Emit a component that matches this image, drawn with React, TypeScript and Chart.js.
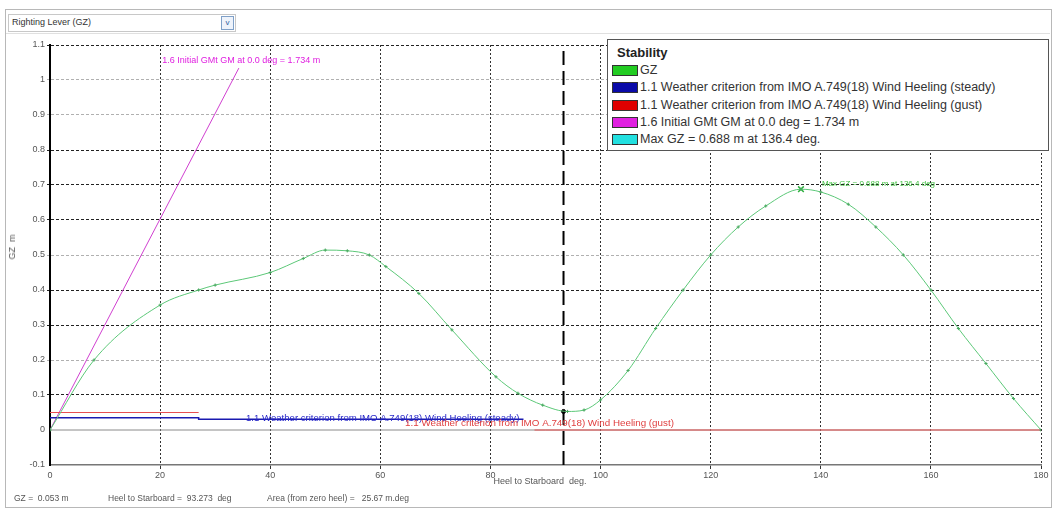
import React, { useEffect, useRef } from "react";
import { Chart, registerables } from "chart.js";
Chart.register(...registerables);

// ---- data ----
const gzHeel = [0, 8, 20, 27, 30, 40, 46, 50, 54, 58, 61, 67, 73, 81, 85, 89.5, 94, 97, 100, 105, 110, 115, 120, 125, 130, 136.4, 140, 145, 150, 155, 160, 165, 170, 175, 180];
const gzValues = [0, 0.2, 0.357, 0.4, 0.414, 0.45, 0.49, 0.514, 0.512, 0.5, 0.467, 0.39, 0.286, 0.152, 0.105, 0.071, 0.053, 0.057, 0.086, 0.17, 0.29, 0.4, 0.5, 0.58, 0.64, 0.688, 0.68, 0.645, 0.58, 0.5, 0.4, 0.29, 0.19, 0.09, 0];
const gmHeel = [0, 34.3];
const gmValues = [0, 1.034];
const steadyHeel = [0, 27, 27, 86];
const steadyValues = [0.035, 0.035, 0.031, 0.031];
const gustHeel = [0, 27, 27, 88, 180];
const gustValues: (number | null)[] = [0.05, 0.05, null, 0, 0];
const equilibriumHeel = 93.273;
const equilibriumGZ = 0.053;
const maxGZHeel = 136.4;
const maxGZ = 0.688;
const xMin = 0, xMax = 180, xStep = 20;
const yMin = -0.1, yMax = 1.1, yStep = 0.1;
const lightGridValues = [1.0, 0.9, 0.5, 0.2];

const legendTitle = "Stability";
const legendLabels = [
  "GZ",
  "1.1 Weather criterion from IMO A.749(18) Wind Heeling (steady)",
  "1.1 Weather criterion from IMO A.749(18) Wind Heeling (gust)",
  "1.6 Initial GMt GM at 0.0 deg = 1.734 m",
  "Max GZ = 0.688 m at 136.4 deg.",
];
const legendColors = ["#22cc22", "#0a0aa8", "#e00000", "#e020e0", "#22e0e0"];

const annotations = [
  { text: "1.6 Initial GMt GM at 0.0 deg = 1.734 m", x: 20.4, y: 1.055, color: "#e020e0", size: 9 },
  { text: "1.1 Weather criterion from IMO A.749(18) Wind Heeling (steady)", x: 35.6, y: 0.034, color: "#2828c8", size: 9.6 },
  { text: "1.1 Weather criterion from IMO A.749(18) Wind Heeling (gust)", x: 64.5, y: 0.018, color: "#e04040", size: 9.8 },
  { text: "Max GZ = 0.688 m at 136.4 deg", x: 140.2, y: 0.703, color: "#40c040", size: 8 },
];

const headerLabel = "Righting Lever (GZ)";
const xTitle = "Heel to Starboard  deg.";
const yTitle = "GZ  m";
const statusTexts = [
  { text: "GZ =  0.053 m", left: 14 },
  { text: "Heel to Starboard =  93.273  deg", left: 108 },
  { text: "Area (from zero heel) =   25.67 m.deg", left: 267 },
];

const pts = (xs: number[], ys: (number | null)[]) => xs.map((x, i) => ({ x, y: ys[i] }));

const FONT = '"Liberation Sans", Arial, sans-serif';

export default function App() {
  const ref = useRef<HTMLCanvasElement>(null);
  useEffect(() => {
    document.body.style.margin = "0";
    const annotationPlugin = {
      id: "annot",
      afterDatasetsDraw(chart: any) {
        const { ctx, scales } = chart;
        ctx.save();
        ctx.textBaseline = "middle";
        ctx.textAlign = "left";
        for (const a of annotations) {
          ctx.font = `${a.size}px ${FONT}`;
          ctx.fillStyle = a.color;
          ctx.fillText(a.text, scales.x.getPixelForValue(a.x), scales.y.getPixelForValue(a.y));
        }
        ctx.restore();
      },
    };
    const chart = new Chart(ref.current!, {
      type: "scatter",
      data: {
        datasets: [
          {
            data: pts(gzHeel, gzValues),
            showLine: true,
            borderColor: "#5cc878",
            borderWidth: 1,
            cubicInterpolationMode: "monotone",
            pointStyle: "cross",
            pointRadius: 1.6,
            pointBorderWidth: 1,
            pointBorderColor: "#4aa860",
          } as any,
          {
            data: pts(steadyHeel, steadyValues),
            showLine: true,
            borderColor: "#1a1ab0",
            borderWidth: 1.5,
            pointRadius: 0,
          },
          {
            data: pts(gustHeel, gustValues),
            showLine: true,
            spanGaps: false,
            borderColor: "#e85050",
            borderWidth: 1,
            pointRadius: 0,
          },
          {
            data: pts(gmHeel, gmValues),
            showLine: true,
            borderColor: "#d040d0",
            borderWidth: 1,
            pointRadius: 0,
          },
          {
            data: pts([xMin, xMax], [0, 0]),
            showLine: true,
            borderColor: "#8a8a8a",
            borderWidth: 1,
            pointRadius: 0,
          },
          {
            data: pts([equilibriumHeel, equilibriumHeel], [yMin, yMax]),
            showLine: true,
            borderColor: "#000",
            borderWidth: 2,
            borderDash: [14, 6],
            pointRadius: 0,
          },
          {
            data: pts([equilibriumHeel], [equilibriumGZ]),
            pointRadius: 2,
            pointBackgroundColor: "#000",
            pointBorderColor: "#000",
          },
          {
            data: pts([maxGZHeel], [maxGZ]),
            pointStyle: "crossRot",
            pointRadius: 4,
            pointBorderWidth: 1.5,
            pointBorderColor: "#30b040",
          },
        ],
      },
      options: {
        responsive: false,
        animation: false,
        devicePixelRatio: 1,
        layout: { padding: { left: 0, top: 45, right: 13, bottom: 0 } },
        plugins: { legend: { display: false }, tooltip: { enabled: false } },
        scales: {
          x: {
            type: "linear",
            min: xMin,
            max: xMax,
            afterFit: (s: any) => { s.height = 44; },
            ticks: { stepSize: xStep, color: "#555", font: { size: 9, family: FONT }, padding: 1, maxRotation: 0 },
            grid: {
              color: (c: any) => (c.tick && c.tick.value === xMin ? "rgba(0,0,0,0)" : "#333"),
              lineWidth: 1,
              tickLength: 4,
            },
            border: { display: true, color: "#777", width: 1.5, dash: [2, 2] },
          },
          y: {
            min: yMin,
            max: yMax,
            afterFit: (s: any) => { s.width = 50; },
            ticks: {
              stepSize: yStep,
              color: "#555",
              font: { size: 9, family: FONT },
              padding: 2,
              callback: (v: any) => String(Math.round(Number(v) * 10) / 10),
            },
            grid: {
              color: (c: any) => {
                if (!c.tick) return "#333";
                const v = Math.round(c.tick.value * 10) / 10;
                if (v === 0 || v === yMin) return "rgba(0,0,0,0)";
                return lightGridValues.includes(v) ? "#b0b0b0" : "#222";
              },
              lineWidth: 1,
              tickLength: 3,
            },
            border: { display: true, color: "#000", width: 2, dash: [3, 2] },
          },
        },
      } as any,
      plugins: [annotationPlugin],
    });
    return () => chart.destroy();
  }, []);

  const text: React.CSSProperties = { position: "absolute", fontFamily: FONT, whiteSpace: "pre", color: "#555" };

  return (
    <div style={{ position: "relative", width: 1054, height: 509, background: "#fff", overflow: "hidden", fontFamily: FONT }}>
      <div style={{ position: "absolute", left: 5, top: 9, width: 1045, height: 497, border: "1px solid #b8b8b8" }} />
      <div style={{ position: "absolute", left: 6, top: 33, width: 1044, height: 0, borderTop: "1px solid #e0e0e0" }} />
      <canvas ref={ref} width={1054} height={509} style={{ position: "absolute", left: 0, top: 0 }} />
      {/* header dropdown */}
      <div style={{ position: "absolute", left: 8, top: 14, width: 226, height: 16, border: "1px solid #c8c8c8", background: "#fff" }}>
        <span style={{ ...text, left: 3, top: 2, fontSize: 9, color: "#333" }}>{headerLabel}</span>
        <div style={{ position: "absolute", right: 1, top: 1, width: 11, height: 12, border: "1px solid #7fa0c8", background: "#eef3fb", fontSize: 8, color: "#3060a0", textAlign: "center", lineHeight: "11px" }}>v</div>
      </div>
      {/* y title */}
      <div style={{ ...text, left: 12, top: 247, fontSize: 9, transform: "translate(-50%,-50%) rotate(-90deg)" }}>{yTitle}</div>
      {/* x title */}
      <div style={{ ...text, left: 540, top: 481, fontSize: 9, transform: "translate(-50%,-50%)" }}>{xTitle}</div>
      {/* status */}
      {statusTexts.map((s, i) => (
        <div key={i} style={{ ...text, left: s.left, top: 493, fontSize: 8.5 }}>{s.text}</div>
      ))}
      {/* legend */}
      <div style={{ position: "absolute", left: 607, top: 39, width: 440, height: 110, border: "1px solid #555", background: "#fff" }}>
        <div style={{ ...text, left: 9, top: 5, fontSize: 13, fontWeight: "bold", color: "#222" }}>{legendTitle}</div>
        {legendLabels.map((l, i) => (
          <div key={i} style={{ position: "absolute", left: 4, top: 23 + i * 17.3, height: 14, width: 436 }}>
            <div style={{ position: "absolute", left: 0, top: 2, width: 24, height: 9, background: legendColors[i], border: "1px solid #333" }} />
            <div style={{ ...text, left: 28, top: 0, fontSize: 12.5, color: "#333", lineHeight: "14px" }}>{l}</div>
          </div>
        ))}
      </div>
    </div>
  );
}
